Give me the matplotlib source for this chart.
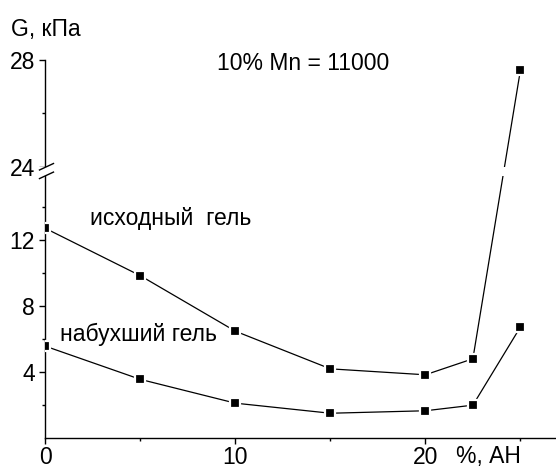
import numpy as np
import matplotlib
matplotlib.use("Agg")
import matplotlib.pyplot as plt
from matplotlib.lines import Line2D

# Data: shear modulus G (kPa) vs. AN content (%)
an_percent = [0, 5, 10, 15, 20, 22.5, 25]
g_initial = [12.70, 9.83, 6.47, 4.19, 3.83, 4.80, 27.61]
g_swollen = [5.56, 3.55, 2.11, 1.50, 1.65, 1.99, 6.72]

y_major = [4, 8, 12, 24, 28]
y_minor = [2, 6, 10, 14, 26]
x_major = [0, 10, 20]
x_minor = [5, 15, 25]

plt.rcParams['font.family'] = ['Liberation Sans', 'DejaVu Sans']
FS = 16.5

# Broken y axis: linear below LO, compressed gap, stretched above 24
LO = 15.9
HI = 24.0
GAP = 0.52
K = 1.621


def fwd(y):
    y = np.asarray(y, dtype=float)
    mid = LO + (y - LO) * (GAP / (HI - LO))
    top = LO + GAP + (y - HI) * K
    return np.where(y <= LO, y, np.where(y >= HI, top, mid))


def inv(v):
    v = np.asarray(v, dtype=float)
    mid = LO + (v - LO) * ((HI - LO) / GAP)
    top = HI + (v - LO - GAP) / K
    return np.where(v <= LO, v, np.where(v >= LO + GAP, top, mid))


fig = plt.figure(figsize=(5.56, 4.69), dpi=100)
ax = fig.add_axes([0.0818, 0.0661, 0.918, 0.806])
ax.set_yscale('function', functions=(fwd, inv))
ax.set_xlim(0, 26.87)
ax.set_ylim(0, 28)

for vals in (g_initial, g_swollen):
    ax.plot(an_percent, vals, color='black', lw=0.9, zorder=2)
    ax.plot(an_percent, vals, linestyle='none', marker='s', ms=6.8,
            mfc='black', mec='white', mew=1.6, zorder=4)

ax.spines['top'].set_visible(False)
ax.spines['right'].set_visible(False)
for s in ('left', 'bottom'):
    ax.spines[s].set_linewidth(1.0)

ax.set_yticks(y_major)
ax.set_yticks(y_minor, minor=True)
ax.set_xticks(x_major)
ax.set_xticks(x_minor, minor=True)
ax.tick_params(axis='both', which='major', direction='out', length=4.5,
               width=1.0, labelsize=FS, pad=3)
ax.tick_params(axis='x', which='major', pad=1.0)
ax.tick_params(axis='both', which='minor', direction='out', length=2.2,
               width=1.0)

# White band hides the data line and the spine across the break
band_lo, band_hi = 15.9, 24.0
ax.axhspan(band_lo, band_hi, xmin=-0.02, xmax=1.0, color='white',
           zorder=3, clip_on=False, lw=0)

# Break marks on the y axis
for yv in (band_lo, band_hi):
    _, yd = ax.transData.transform((0, yv))
    x0, _ = ax.transAxes.transform((0, 0))
    p1 = fig.transFigure.inverted().transform((x0 - 6, yd - 3))
    p2 = fig.transFigure.inverted().transform((x0 + 8, yd + 3.5))
    fig.add_artist(Line2D([p1[0], p2[0]], [p1[1], p2[1]], color='black',
                          lw=1.0, zorder=5))

ax.text(0.0, 1.08, 'G, кПа', transform=ax.transAxes, fontsize=FS,
        ha='center', va='center')
ax.text(0.337, 0.99, '10% Mn = 11000', transform=ax.transAxes, fontsize=FS,
        ha='left', va='center')
ax.text(2.35, 13.3, 'исходный  гель', fontsize=FS, ha='left', va='center')
ax.text(0.75, 6.3, 'набухший гель', fontsize=FS, ha='left', va='center')
ax.text(21.6, -0.42, '%, АН', fontsize=FS, ha='left', va='top')

fig.savefig('out.png', dpi=100)
